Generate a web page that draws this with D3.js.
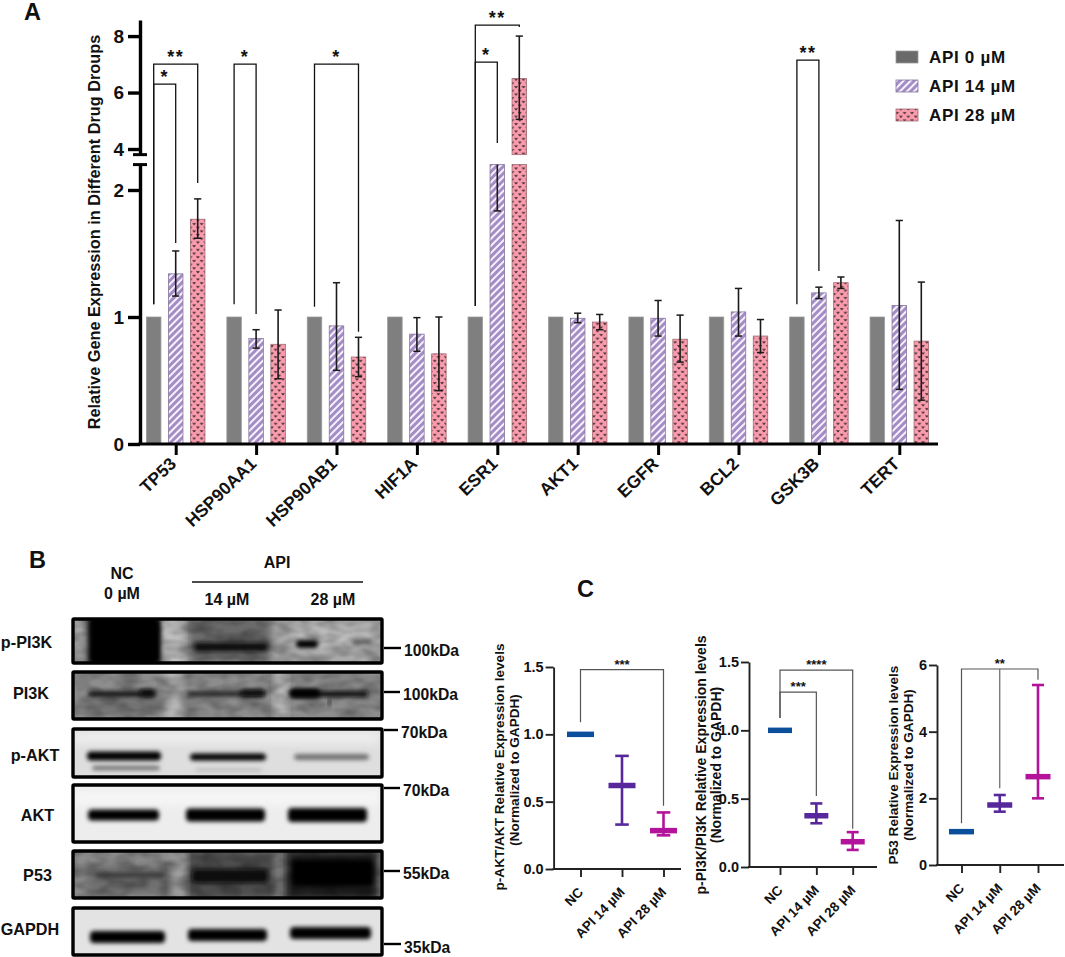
<!DOCTYPE html>
<html><head><meta charset="utf-8">
<script src="https://cdn.jsdelivr.net/npm/d3@7"></script>
<style>
html,body{margin:0;padding:0;background:#fff}
svg{display:block}
text{font-family:"Liberation Sans",Arial,sans-serif;font-weight:bold;fill:#111}
</style></head><body>
<svg id="c" width="1065" height="957"></svg>
<script>
// ---------- Panel A data ----------
const genes=["TP53","HSP90AA1","HSP90AB1","HIF1A","ESR1","AKT1","EGFR","BCL2","GSK3B","TERT"];
const seriesNames=["API 0 µM","API 14 µM","API 28 µM"];
const api0=[1,1,1,1,1,1,1,1,1,1];
const api14=[1.34,0.83,0.93,0.865,3.0,0.99,0.99,1.04,1.19,1.09];
const api14Lo=[1.165,0.755,0.58,0.73,1.835,0.955,0.85,0.85,1.145,0.43];
const api14Hi=[1.52,0.90,1.27,0.995,3.7,1.03,1.13,1.225,1.235,1.76];
const api28=[1.77,0.785,0.685,0.71,6.5,0.96,0.825,0.85,1.27,0.81];
const api28Lo=[1.62,0.514,0.53,0.42,5.05,0.90,0.645,0.72,1.225,0.345];
const api28Hi=[1.93,1.055,0.84,1.0,8.0,1.02,1.015,0.98,1.315,1.275];
const ticksLow=[0,1,2], ticksHigh=[4,6,8];
// significance: gene, from series, to series, level, leg end values, stars
const sigGene=["TP53","TP53","HSP90AA1","HSP90AB1","ESR1","ESR1","GSK3B"];
const sigTo=[1,2,1,2,1,2,1];
const sigLevel=[6.3,7.01,7.01,7.01,7.08,8.39,7.15];
const sigLeftEnd=[1.10,1.10,1.10,1.08,1.087,1.087,1.10];
const sigRightEnd=[1.583,2.055,1.024,0.884,4.21,8.32,1.362];
const sigStars=["*","**","*","*","*","**","**"];
// ---------- Panel B data ----------
const blotNames=["p-PI3K","PI3K","p-AKT","AKT","P53","GAPDH"];
const blotMarkers=["100kDa","100kDa","70kDa","70kDa","55kDa","35kDa"];
// ---------- Panel C data ----------
const groupsC=["NC","API 14 µM","API 28 µM"];
const aktMean=[1,0.62,0.285], aktLo=[1,0.33,0.25], aktHi=[1,0.84,0.42];
const pi3kMean=[1,0.375,0.185], pi3kLo=[1,0.32,0.125], pi3kHi=[1,0.465,0.255];
const p53Mean=[1,1.8,2.65], p53Lo=[1,1.6,2.0], p53Hi=[1,2.1,5.4];
const ticksAkt=[0,0.5,1,1.5], ticksP53=[0,2,4,6];

const svg=d3.select("#c");
const defs=svg.append("defs");
// patterns
const pp=defs.append("pattern").attr("id","stripe").attr("patternUnits","userSpaceOnUse")
  .attr("width",5).attr("height",5).attr("patternTransform","rotate(45)");
pp.append("rect").attr("width",5).attr("height",5).attr("fill","#a48cc6");
pp.append("rect").attr("width",2).attr("height",5).attr("fill","#f6f2fb");
const pk=defs.append("pattern").attr("id","dots").attr("patternUnits","userSpaceOnUse")
  .attr("width",7.4).attr("height",7.4);
pk.append("rect").attr("width",7.4).attr("height",7.4).attr("fill","#f99cad");
[[1.8,1.6],[5.5,5.3]].forEach(([x,y])=>{
  pk.append("path").attr("d",`M${x-1.3},${y-.6}L${x},${y+.8}L${x+1.3},${y-.6}`)
    .attr("fill","none").attr("stroke","#2a1c20").attr("stroke-width",1);
});
const blur=(id,s)=>defs.append("filter").attr("id",id).attr("x","-30%").attr("y","-150%").attr("width","160%").attr("height","400%")
  .append("feGaussianBlur").attr("stdDeviation",s);
blur("b1",2);blur("b2",4.5);
const gr=defs.append("filter").attr("id","grain").attr("x",0).attr("y",0).attr("width","100%").attr("height","100%");
gr.append("feTurbulence").attr("type","fractalNoise").attr("baseFrequency","0.05 0.09").attr("numOctaves",2).attr("seed",4);
gr.append("feColorMatrix").attr("values","0 0 0 0 0  0 0 0 0 0  0 0 0 0 0  1.6 0 0 0 -0.5");

// Panel letters
[["A",24,20],["B",29,568],["C",577,597]].forEach(([t,x,y])=>svg.append("text").attr("x",x).attr("y",y).attr("font-size",23.5).text(t));

// ---------- Panel A ----------
const A=svg.append("g");
const axisX=140, yZero=444;
const x=d3.scalePoint().domain(genes).range([175.7,899.3]);
const sx=d3.scalePoint().domain([0,1,2]).range([-22,22]);
const barW=14.5;
const loMax=2.2, hiMin=3.8;
const yLo=d3.scaleLinear().domain([0,loMax]).range([yZero,164.6]);
const yHi=d3.scaleLinear().domain([hiMin,8.57]).range([154.65,20]);
const yA=v=>v>=hiMin||v>loMax?yHi(v):yLo(v);

const fills=["#7f7f7f","url(#stripe)","url(#dots)"];
const strokes=["#9c9c9c","#85769c","#a06a74"];
const vals=[api0,api14,api28], los=[null,api14Lo,api28Lo], his=[null,api14Hi,api28Hi];
vals.forEach((arr,s)=>{
  const g=A.append("g");
  const rows=genes.map((name,i)=>({name,v:arr[i],lo:los[s]&&los[s][i],hi:his[s]&&his[s][i]}));
  const cx=d=>x(d.name)+sx(s);
  g.selectAll("rect.low").data(rows).join("rect").attr("class","low")
    .attr("x",d=>cx(d)-barW/2).attr("width",barW)
    .attr("y",d=>yLo(Math.min(d.v,loMax))).attr("height",d=>yZero-yLo(Math.min(d.v,loMax)))
    .attr("fill",fills[s]).attr("stroke",strokes[s]).attr("stroke-width",.8);
  g.selectAll("rect.high").data(rows.filter(d=>d.v>=hiMin)).join("rect").attr("class","high")
    .attr("x",d=>cx(d)-barW/2).attr("width",barW)
    .attr("y",d=>yHi(d.v)).attr("height",d=>yHi(hiMin)-yHi(d.v))
    .attr("fill",fills[s]).attr("stroke",strokes[s]).attr("stroke-width",.8);
  if(s>0){
    const capW=3.6;
    rows.forEach(d=>{
      const X=cx(d);
      const seg=(a,b)=>g.append("line").attr("x1",X).attr("x2",X).attr("y1",a).attr("y2",b).attr("stroke","#1a1a1a").attr("stroke-width",1.6);
      const cap=v=>g.append("line").attr("x1",X-capW).attr("x2",X+capW).attr("y1",yA(v)).attr("y2",yA(v)).attr("stroke","#1a1a1a").attr("stroke-width",1.5);
      if(d.lo>=hiMin){ seg(yA(d.lo),yA(d.hi)); cap(d.lo); cap(d.hi); }
      else if(d.hi>loMax){ seg(yA(d.lo),yLo(loMax)); cap(d.lo); }
      else { seg(yA(d.lo),yA(d.hi)); cap(d.lo); cap(d.hi); }
    });
  }
});
// brackets
sigGene.forEach((gn,i)=>{
  const xl=x(gn)+sx(0), xr=x(gn)+sx(sigTo[i]);
  const L=yA(sigLevel[i]);
  A.append("path").attr("d",`M${xl},${yA(sigLeftEnd[i])}V${L}H${xr}V${yA(sigRightEnd[i])}`)
    .attr("fill","none").attr("stroke","#111").attr("stroke-width",1.3);
  A.append("text").attr("x",(xl+xr)/2).attr("y",L-1).attr("text-anchor","middle").attr("font-size",18).attr("font-weight","normal").attr("letter-spacing",1.5).text(sigStars[i]);
});
// axes
const styleAxis=(g,w)=>{g.selectAll("path.domain").attr("stroke","#000").attr("stroke-width",w);
  g.selectAll(".tick line").attr("stroke","#000").attr("stroke-width",w);};
[[yLo,ticksLow],[yHi,ticksHigh]].forEach(([sc,tv])=>{
  const g=A.append("g").attr("transform",`translate(${axisX},0)`)
    .call(d3.axisLeft(sc).tickValues(tv).tickFormat(d3.format("d")).tickSize(12).tickSizeOuter(0).tickPadding(4));
  styleAxis(g,3.4);
  g.attr("font-family",null);
  g.selectAll("text").attr("font-size",19);
});
[yLo(loMax),yHi(hiMin)].forEach(y=>A.append("line").attr("x1",axisX-7).attr("x2",axisX+7).attr("y1",y).attr("y2",y).attr("stroke","#000").attr("stroke-width",3));
const xg=A.append("g").attr("transform",`translate(0,${yZero})`)
  .call(d3.axisBottom(x).tickSize(11).tickSizeOuter(0));
xg.attr("font-family",null);
xg.select("path.domain").remove();
xg.selectAll(".tick line").attr("stroke","#000").attr("stroke-width",3);
xg.selectAll("text").attr("font-size",17.5).attr("text-anchor","end").attr("dy",0).attr("y",0).attr("x",0)
  .attr("transform","translate(1,21) rotate(-44)");
A.append("line").attr("x1",axisX-1.7).attr("x2",938).attr("y1",yZero).attr("y2",yZero).attr("stroke","#000").attr("stroke-width",3.2);
A.append("text").attr("transform","translate(100,232) rotate(-90)").attr("text-anchor","middle").attr("font-size",16.3).text("Relative Gene Expression in Different Drug Droups");
// legend
const legY=d3.scalePoint().domain(seriesNames).range([57,115]);
seriesNames.forEach((n,s)=>{
  A.append("rect").attr("x",896).attr("y",legY(n)-6).attr("width",22).attr("height",12)
    .attr("fill",s==0?"#6a6a6a":fills[s]).attr("stroke",strokes[s]).attr("stroke-width",.8);
  A.append("text").attr("x",929).attr("y",legY(n)+6).attr("font-size",17).attr("letter-spacing",.7).text(n);
});

// ---------- Panel B ----------
const B=svg.append("g");
const rowTop=[619,672,729,785,851,908], rowBot=[663,719,777,842,898,955];
const boxL=73, boxR=382;
const rowBg=["#a9a9a9","#8d8d8d","#dedede","#ededed","#8c8c8c","#e3e3e3"];
// each band: row, left, right, centre y, height, colour
const smears=[
 [0,88,160,641,60,"#000"],[0,188,272,638,50,"#6a6a6a"],[0,292,372,636,24,"#c4c4c4"],[0,162,182,641,60,"#c0c0c0"],
 [1,165,182,695,60,"#b8b8b8"],[1,275,287,695,60,"#c0c0c0"],[1,85,160,706,14,"#6f6f6f"],
 [2,74,380,738,12,"#eeeeee"],
 [3,74,380,798,14,"#f6f6f6"],
 [4,85,172,880,30,"#707070"],[4,186,275,875,50,"#4e4e4e"],[4,285,378,875,50,"#1e1e1e"],[4,172,186,875,50,"#9e9e9e"]];
const bands=[
 [0,90,160,641,44,"#000"],[0,194,268,647,9,"#111"],[0,296,318,644,8,"#000"],[0,352,372,642,5,"#555"],
 [1,88,155,694,6,"#1c1c1c"],[1,140,155,693,8,"#0a0a0a"],[1,187,265,694,5,"#222"],[1,240,265,693,7,"#0a0a0a"],[1,290,368,694,6,"#111"],[1,290,320,693,9,"#000"],[1,328,331,702,10,"#333"],
 [2,87,161,756,9,"#000"],[2,92,160,768,4,"#666"],[2,190,266,757,7,"#000"],[2,195,262,770,3,"#b8b8b8"],[2,294,369,757,6,"#707070"],
 [3,88,159,815,11,"#000"],[3,186,265,815,13,"#000"],[3,288,367,815,14,"#000"],
 [4,95,165,875,5,"#383838"],[4,192,268,876,14,"#080808"],[4,292,373,873,26,"#000"],
 [5,90,165,937,12,"#000"],[5,188,267,935,12,"#000"],[5,290,371,933,12,"#000"]];
blotNames.forEach((n,i)=>{
  const h=rowBot[i]-rowTop[i];
  const clipId="clip"+i;
  defs.append("clipPath").attr("id",clipId).append("rect").attr("x",boxL).attr("y",rowTop[i]).attr("width",boxR-boxL).attr("height",h);
  const g=B.append("g").attr("clip-path",`url(#${clipId})`);
  g.append("rect").attr("x",boxL).attr("y",rowTop[i]).attr("width",boxR-boxL).attr("height",h).attr("fill",rowBg[i]);
  smears.filter(d=>d[0]==i).forEach(d=>g.append("rect").attr("x",d[1]).attr("width",d[2]-d[1]).attr("y",d[3]-d[4]/2).attr("height",d[4]).attr("fill",d[5]).attr("filter","url(#b2)"));
  if([0,1,4].includes(i)) g.append("rect").attr("x",boxL).attr("y",rowTop[i]).attr("width",boxR-boxL).attr("height",h).attr("filter","url(#grain)").attr("opacity",.35);
  bands.filter(d=>d[0]==i).forEach(d=>g.append("rect").attr("x",d[1]).attr("width",d[2]-d[1]).attr("y",d[3]-d[4]/2).attr("height",d[4]).attr("rx",4).attr("fill",d[5]).attr("filter","url(#b1)"));
  B.append("rect").attr("x",boxL).attr("y",rowTop[i]).attr("width",boxR-boxL).attr("height",h).attr("fill","none").attr("stroke","#000").attr("stroke-width",3.4).attr("rx",1);
});
const blotLabelX=[26.5,31,35,37.5,37.5,30], blotLabelY=[642,693,755,815,875,929];
blotNames.forEach((n,i)=>B.append("text").attr("x",blotLabelX[i]).attr("y",blotLabelY[i]+5.5).attr("text-anchor","middle").attr("font-size",16.2).text(n));
const markY=[648,692,730,788,871,944], markTextX=[404,403,401,403,403,404], markTextY=[650,694,732,790,873,947];
blotMarkers.forEach((n,i)=>{
  B.append("line").attr("x1",384).attr("x2",markTextX[i]-3).attr("y1",markY[i]).attr("y2",markY[i]).attr("stroke","#000").attr("stroke-width",2.4);
  B.append("text").attr("x",markTextX[i]).attr("y",markTextY[i]+5.5).attr("font-size",15.7).text(n);
});
[["NC",122,573],["0 µM",122,593],["API",277,562],["14 µM",227,599],["28 µM",333,599]].forEach(([t,x0,y0])=>
  B.append("text").attr("x",x0).attr("y",y0+5.5).attr("text-anchor","middle").attr("font-size",16).text(t));
B.append("line").attr("x1",192).attr("x2",363).attr("y1",582).attr("y2",582).attr("stroke","#111").attr("stroke-width",1.3);

// ---------- Panel C ----------
const groupColors=["#0b4f9c","#57289c","#b3129a"];
function panelC(o){
  const g=svg.append("g");
  const X=d3.scalePoint().domain(groupsC).range(o.xr);
  const Y=d3.scaleLinear().domain([0,o.max]).range(o.yr);
  groupsC.forEach((n,i)=>{
    const c=groupColors[i],cx=X(n);
    if(o.hi[i]!==o.lo[i]){
      g.append("line").attr("x1",cx).attr("x2",cx).attr("y1",Y(o.lo[i])).attr("y2",Y(o.hi[i])).attr("stroke",c).attr("stroke-width",2.6);
      [o.lo[i],o.hi[i]].forEach(v=>g.append("line").attr("x1",cx-o.cap).attr("x2",cx+o.cap).attr("y1",Y(v)).attr("y2",Y(v)).attr("stroke",c).attr("stroke-width",2.6));
    }
    g.append("line").attr("x1",cx-o.band).attr("x2",cx+o.band).attr("y1",Y(o.mean[i])).attr("y2",Y(o.mean[i])).attr("stroke",c).attr("stroke-width",5.5);
  });
  o.sig.forEach(s=>{
    const xl=X(groupsC[0]),xr=X(groupsC[s.to]),L=Y(s.level);
    g.append("path").attr("d",`M${xl},${Y(s.leftEnd)}V${L}H${xr}V${Y(s.rightEnd)}`).attr("fill","none").attr("stroke","#555").attr("stroke-width",1.2);
    g.append("text").attr("x",(xl+xr)/2).attr("y",L+s.dy).attr("text-anchor","middle").attr("font-size",13).text(s.stars);
  });
  (o.through||[]).forEach(s=>{
    g.append("line").attr("x1",X(groupsC[s.to])).attr("x2",X(groupsC[s.to])).attr("y1",Y(s.level)).attr("y2",Y(s.end)).attr("stroke","#666").attr("stroke-width",1.2);
  });
  const ya=g.append("g").attr("transform",`translate(${o.ax},0)`).call(d3.axisLeft(Y).tickValues(o.ticks).tickSize(8).tickSizeOuter(0).tickPadding(2).tickFormat(o.fmt));
  ya.attr("font-family",null);
  ya.selectAll("path.domain,.tick line").attr("stroke","#222").attr("stroke-width",1.9);
  ya.selectAll("text").attr("font-size",14.5).style("font-family",'"Liberation Sans Narrow","Liberation Sans"');
  const xa=g.append("g").attr("transform",`translate(0,${o.yr[0]})`).call(d3.axisBottom(X).tickSize(8).tickSizeOuter(0));
  xa.attr("font-family",null);
  xa.select("path.domain").remove();
  xa.selectAll(".tick line").attr("stroke","#222").attr("stroke-width",1.9);
  xa.selectAll("text").attr("font-size",13.5).attr("text-anchor","end").attr("y",0).attr("dy",0)
    .attr("transform","translate(3,24) rotate(-46)");
  g.append("line").attr("x1",o.ax-1).attr("x2",o.xEnd).attr("y1",o.yr[0]).attr("y2",o.yr[0]).attr("stroke","#222").attr("stroke-width",1.9);
  g.append("text").attr("transform",`translate(${o.lx},${o.ly}) rotate(-90)`).attr("text-anchor","middle").attr("font-size",o.ls).text(o.l1);
  g.append("text").attr("transform",`translate(${o.lx+15},${o.ly2}) rotate(-90)`).attr("text-anchor","middle").attr("font-size",o.ls).text("(Normalized to GAPDH)");
}
const f1=d3.format(".1f");
panelC({xr:[580.5,663.5],yr:[869,667],max:1.5,ax:553.6,xEnd:681,ticks:ticksAkt,fmt:f1,mean:aktMean,lo:aktLo,hi:aktHi,cap:6.8,band:13.5,
  sig:[{to:2,level:1.48,leftEnd:1.09,rightEnd:0.47,stars:"***",dy:-1}],
  lx:504,ly:767,ly2:770,ls:13.6,l1:"p-AKT/AKT Relative Expression levels"});
panelC({xr:[780,852.7],yr:[867,662],max:1.5,ax:749,xEnd:877,ticks:ticksAkt,fmt:f1,mean:pi3kMean,lo:pi3kLo,hi:pi3kHi,cap:6,band:12,
  sig:[{to:2,level:1.44,leftEnd:1.09,rightEnd:0.28,stars:"****",dy:-1},{to:1,level:1.28,leftEnd:1.09,rightEnd:0.52,stars:"***",dy:-1}],
  lx:706,ly:765,ly2:765,ls:14,l1:"p-PI3K/PI3K Relative Expression levels"});
panelC({xr:[961.5,1038],yr:[865,665],max:6,ax:937,xEnd:1064,ticks:ticksP53,fmt:d3.format("d"),mean:p53Mean,lo:p53Lo,hi:p53Hi,cap:6,band:12.5,
  sig:[{to:2,level:5.88,leftEnd:1.25,rightEnd:5.56,stars:"**",dy:-1}],
  through:[{to:1,level:5.88,end:2.3}],
  lx:898,ly:765,ly2:765,ls:13.6,l1:"P53 Relative Expression levels"});
</script>
</body></html>
